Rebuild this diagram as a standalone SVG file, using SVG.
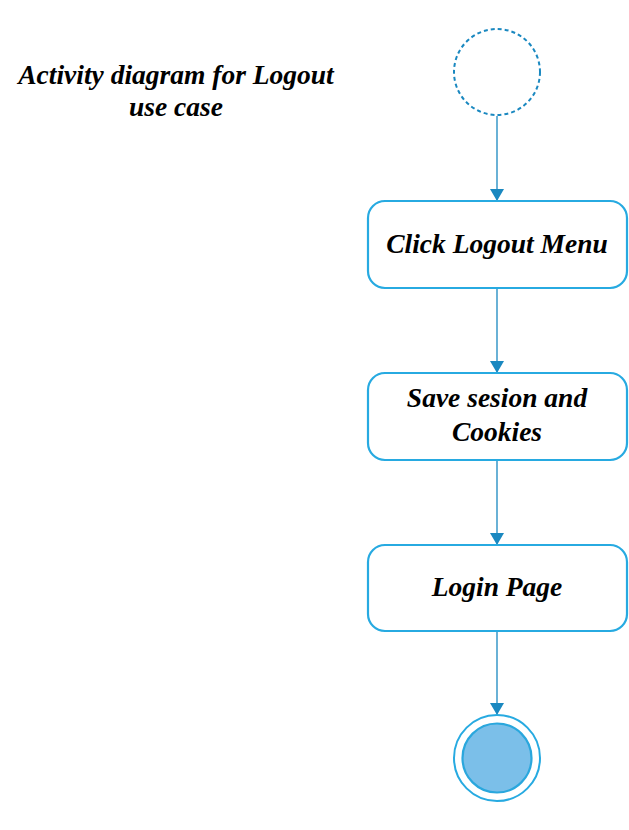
<svg xmlns="http://www.w3.org/2000/svg" width="629" height="830" viewBox="0 0 629 830">
<defs>
<style>
.node{fill:#ffffff;stroke:#27aae1;stroke-width:2.2}
.lbl{font-family:"Liberation Serif","Times New Roman",serif;font-weight:bold;font-style:italic;font-size:27.5px;fill:#000;text-anchor:middle}
.conn{stroke:#1a88c0;stroke-width:1.3;fill:none}
</style>
<marker id="arr" markerWidth="12" markerHeight="14" refX="12" refY="7" orient="auto" markerUnits="userSpaceOnUse" viewBox="0 0 12 14">
<path d="M0,0 L12,7 L0,14 Z" fill="#1a88c0"/>
</marker>
</defs>
<rect width="629" height="830" fill="#ffffff"/>
<g id="title">
<text class="lbl" x="176" y="84">Activity diagram for Logout</text>
<text class="lbl" x="176" y="116">use case</text>
</g>
<g id="connectors">
<line class="conn" x1="497" y1="116" x2="497" y2="201" marker-end="url(#arr)"/>
<line class="conn" x1="497" y1="288" x2="497" y2="373" marker-end="url(#arr)"/>
<line class="conn" x1="497" y1="460" x2="497" y2="545" marker-end="url(#arr)"/>
<line class="conn" x1="497" y1="631" x2="497" y2="715" marker-end="url(#arr)"/>
</g>
<g id="start">
<circle cx="497" cy="72" r="43" fill="none" stroke="#1a88c0" stroke-width="2" stroke-dasharray="4,3"/>
</g>
<g id="click-logout">
<rect class="node" x="368" y="201" width="259" height="87" rx="17"/>
<text class="lbl" x="497" y="253">Click Logout Menu</text>
</g>
<g id="save-session">
<rect class="node" x="368" y="373" width="259" height="87" rx="17"/>
<text class="lbl" x="497" y="407">Save sesion and</text>
<text class="lbl" x="497" y="441">Cookies</text>
</g>
<g id="login-page">
<rect class="node" x="368" y="545" width="259" height="86" rx="17"/>
<text class="lbl" x="497" y="596">Login Page</text>
</g>
<g id="end">
<circle cx="497" cy="758" r="43" fill="#ffffff" stroke="#27aae1" stroke-width="2"/>
<circle cx="497" cy="758" r="34.5" fill="#7bbfe9" stroke="#2aa7dd" stroke-width="2.2"/>
</g>
</svg>
